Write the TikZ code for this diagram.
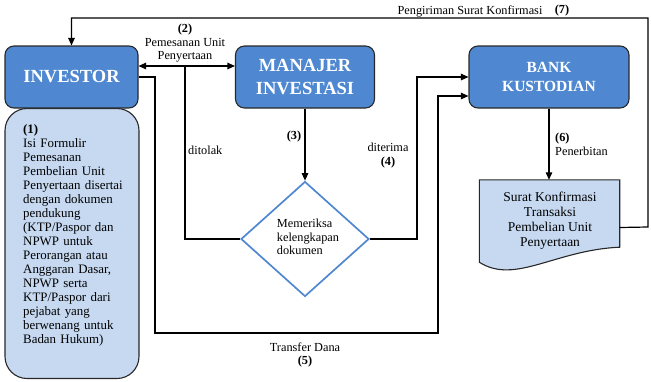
\documentclass[tikz,border=0pt]{standalone}
\usepackage{fontspec}
\setmainfont{Liberation Serif}
\usetikzlibrary{arrows.meta,shapes.geometric}
\definecolor{boxblue}{RGB}{79,136,208}
\definecolor{paleblue}{RGB}{198,217,241}
\definecolor{edgegray}{RGB}{40,40,40}

\begin{document}
\begin{tikzpicture}[x=1pt,y=-1pt,
  mainbox/.style={draw=edgegray, line width=1.1pt, fill=boxblue, rounded corners=9pt,
    minimum height=62pt, inner sep=0pt, align=center, text=white,
    font=\bfseries\fontsize{18.5}{23}\selectfont},
  notebox/.style={draw=edgegray, line width=1.1pt, fill=paleblue, rounded corners=22pt, inner sep=0pt},
  lbl/.style={inner sep=0pt, align=center, font=\fontsize{12.3}{13.5}\selectfont},
  flow/.style={draw=black, line width=1.2pt},
  arr/.style={flow, -{Triangle[length=7.5pt,width=6.5pt]}},
  darr/.style={flow, {Triangle[length=7.5pt,width=6.5pt]}-{Triangle[length=7.5pt,width=6.5pt]}}
]
\useasboundingbox (0,0) rectangle (651,381);

% investor with its note underneath
\node[notebox, minimum width=134pt, minimum height=270pt] (note) at (72,243.5) {};
\node[mainbox, minimum width=133pt] (inv) at (71.5,77) {INVESTOR};
\node[lbl, anchor=north west, align=left, text width=118pt, font=\fontsize{12.9}{14}\selectfont] (notetext) at (23,124)
  {\textbf{(1)}\\Isi Formulir\\Pemesanan\\Pembelian Unit\\Penyertaan disertai\\dengan dokumen\\pendukung\\(KTP/Paspor dan\\NPWP untuk\\Perorangan atau\\Anggaran Dasar,\\NPWP serta\\KTP/Paspor dari\\pejabat yang\\berwenang untuk\\Badan Hukum)};

% manager and custodian
\node[mainbox, minimum width=139pt] (mi) at (305,77) {MANAJER\\INVESTASI};
\node[mainbox, minimum width=160pt, font=\bfseries\fontsize{15.5}{19}\selectfont] (bank) at (549,77) {BANK\\KUSTODIAN};

% decision
\node[diamond, draw=boxblue, line width=1.7pt, fill=white, minimum width=128pt,
  minimum height=115pt, inner sep=0pt] (chk) at (305,239) {};
\node[lbl, align=left] (chktext) at (308,237) {Memeriksa\\kelengkapan\\dokumen};

% confirmation document
\node[minimum width=140pt, minimum height=87pt, inner sep=0pt] (doc) at (549.5,223.5) {};
\draw[edgegray, line width=1.1pt, fill=paleblue]
  (doc.north west) -- (doc.north east) -- ([yshift=20pt]doc.south east)
  .. controls (555,250) and (515,285) .. ([yshift=5pt]doc.south west) -- cycle;
\node[lbl, font=\fontsize{13.5}{15}\selectfont] (doctext) at (550,220.5)
  {Surat Konfirmasi\\Transaksi\\Pembelian Unit\\Penyertaan};

% connectors
\draw[darr] ([yshift=11pt]inv.east) -- ([yshift=11pt]mi.west);
\coordinate (split) at (185,66);
\draw[flow] (split) -- (185,239) -- (chk.west);
\draw[arr] (mi.south) -- (chk.north);
\draw[arr] (chk.east) -- (417,239) |- (bank.west);
\draw[arr] (inv.east) -- (155,77) -- (155,333) -- (438,333) |- ([yshift=-19pt]bank.west);
\draw[arr] (bank.south) -- (doc.north -| bank.south);
\draw[arr] ([yshift=-4pt]doc.east) -- (648,227) -- (648,18) -| (inv.north);

% labels
\node[lbl] (l2) at (185,43.5) {\textbf{(2)}\\Pemesanan Unit\\Penyertaan};
\node[lbl, anchor=west] (lrej) at (188,150) {ditolak};
\node[lbl] (l3) at (294,137) {\textbf{(3)}};
\node[lbl] (l4) at (388,155.5) {diterima\\\textbf{(4)}};
\node[lbl] (l5) at (305,355) {Transfer Dana\\\textbf{(5)}};
\node[lbl, anchor=west, align=left] (l6) at (555,144.5) {\textbf{(6)}\\Penerbitan};
\node[lbl] (l7a) at (470,11) {Pengiriman Surat Konfirmasi};
\node[lbl] (l7b) at (562,11) {\textbf{(7)}};
\end{tikzpicture}
\end{document}
